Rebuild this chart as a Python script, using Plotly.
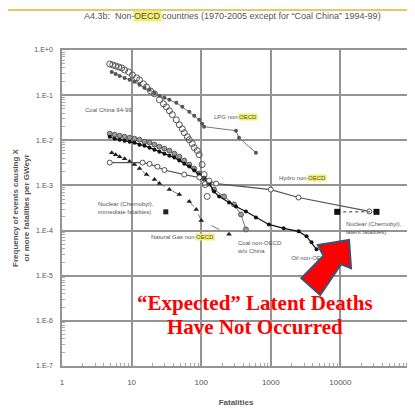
import plotly.graph_objects as go

# ---------------- data ----------------
x_ticks = [1, 10, 100, 1000, 10000, 100000]
x_tick_labels = ["1", "10", "100", "1000", "10000", "100000"]
y_ticks = [1, 1e-1, 1e-2, 1e-3, 1e-4, 1e-5, 1e-6, 1e-7]
y_tick_labels = ["1.E+0", "1.E-1", "1.E-2", "1.E-3", "1.E-4", "1.E-5", "1.E-6", "1.E-7"]

coal_china_x = [4.85, 5.35, 5.9, 6.52, 7.2, 7.94, 9.06, 10.3, 11.8, 13.0, 14.8, 16.4, 18.7, 21.3,
                25.1, 28.7, 31.6, 34.9, 38.5, 43.9, 48.5, 53.5, 57.2, 63.1, 67.4, 74.4, 79.4,
                87.7, 93.6, 103, 110, 114, 122]
coal_china_y = [0.49, 0.467, 0.444, 0.42, 0.40, 0.36, 0.327, 0.28, 0.241, 0.218, 0.178, 0.152,
                0.124, 0.107, 0.079, 0.064, 0.055, 0.045, 0.037, 0.0285, 0.022, 0.018, 0.0147,
                0.012, 0.0103, 0.0084, 0.0069, 0.00589, 0.0048, 0.0029, 0.00174, 0.00105, 0.00057]

lpg_x = [5.18, 5.9, 6.74, 7.94, 9.36, 11.0, 13.0, 15.3, 18.1, 21.3, 25.1, 29.6, 34.9, 43.9,
         53.5, 67.4, 79.4, 93.6, 103, 110, 316, 349, 611]
lpg_y = [0.327, 0.295, 0.267, 0.241, 0.218, 0.197, 0.169, 0.145, 0.131, 0.112, 0.0966, 0.0871,
         0.079, 0.0676, 0.055, 0.0428, 0.0349, 0.0285, 0.0232, 0.020, 0.0163, 0.0114, 0.0053]

coal_noecd_x = [4.85, 5.71, 6.74, 7.94, 9.36, 11.0, 13.0, 15.3, 18.1, 21.3, 25.1, 29.6, 34.9,
                41.1, 48.5, 57.2, 67.4, 79.4, 93.6, 110, 130, 153, 213, 296, 373, 439]
coal_noecd_y = [0.0140, 0.0133, 0.01264, 0.0120, 0.0114, 0.01084, 0.0103, 0.0093, 0.00885,
                0.0080, 0.00722, 0.00653, 0.00589, 0.00506, 0.00434, 0.00355, 0.00289, 0.00236,
                0.00183, 0.00142, 0.0011, 0.00081, 0.00057, 0.00038, 0.000228, 0.000106]

oil_x = [4.85, 5.71, 6.74, 7.94, 9.36, 11.0, 13.0, 15.3, 18.1, 21.3, 25.1, 29.6, 34.9, 41.1,
         48.5, 57.2, 67.4, 79.4, 93.6, 110, 130, 153, 181, 251, 316, 439, 611, 936, 1533,
         2512, 3266, 3852, 4540]
oil_y = [0.0120, 0.01084, 0.0103, 0.0098, 0.0093, 0.00885, 0.0080, 0.0076, 0.00687, 0.0062,
         0.0056, 0.00506, 0.00457, 0.00413, 0.00355, 0.00304, 0.00261, 0.00213, 0.00174,
         0.00142, 0.00110, 0.00073, 0.00057, 0.00042, 0.00034, 0.000265, 0.000196, 0.000137,
         0.000112, 0.000096, 0.0000744, 0.000055, 0.0000385]

gas_x = [5.18, 5.9, 6.74, 7.94, 9.36, 11.0, 13.0, 16.4, 21.3, 25.1, 34.9, 48.5, 67.4, 84.8, 100, 251]
gas_y = [0.0053, 0.0048, 0.00434, 0.00392, 0.00337, 0.00289, 0.00236, 0.00174, 0.00135, 0.0011,
         0.00081, 0.00063, 0.00044, 0.000294, 0.000168, 0.0000824]

hydro_x = [4.85, 14.4, 18.1, 23.5, 29.6, 57.0, 94.0, 130, 164, 1000, 2500, 26000]
hydro_y = [0.0032, 0.0032, 0.0030, 0.0026, 0.0022, 0.00174, 0.0015, 0.00128, 0.0011, 0.00081,
           0.00054, 0.000265]

nuc_immediate_x = [31]
nuc_immediate_y = [0.00026]
nuc_latent_x = [9000, 33000]
nuc_latent_y = [0.00026, 0.00026]

# ---------------- layout helpers ----------------
# the page body has an 8px margin, so the figure is drawn 8px right/down
OFF = 8
W, H = 407, 403
ML, MR, MT, MB = 54, 3, 42, 45
PW, PH = W - ML - MR, H - MT - MB


def pxx(px):
    return (px - OFF - ML) / PW


def pxy(py):
    return (OFF + H - MB - py) / PH


GREY_TXT = "#555555"
FONT = "Liberation Sans, Arial, sans-serif"
HIGHLIGHT = "#f2ef6e"

fig = go.Figure()

fig.add_trace(go.Scatter(x=coal_noecd_x, y=coal_noecd_y, mode="lines+markers",
                         line=dict(color="#777777", width=1),
                         marker=dict(symbol="circle", size=5, color="#9a9a9a",
                                     line=dict(color="#444444", width=0.8))))
fig.add_trace(go.Scatter(x=oil_x, y=oil_y, mode="lines+markers",
                         line=dict(color="#111111", width=1.2),
                         marker=dict(symbol="circle", size=4, color="#111111")))
fig.add_trace(go.Scatter(x=coal_china_x, y=coal_china_y, mode="markers",
                         marker=dict(symbol="circle-open", size=6, color="#555555",
                                     line=dict(width=1))))
fig.add_trace(go.Scatter(x=lpg_x, y=lpg_y, mode="lines+markers",
                         line=dict(color="#777777", width=1),
                         marker=dict(symbol="circle", size=4, color="#555555")))
fig.add_trace(go.Scatter(x=gas_x, y=gas_y, mode="lines+markers",
                         line=dict(color="#777777", width=1, dash="dash"),
                         marker=dict(symbol="triangle-up", size=5, color="#222222")))
fig.add_trace(go.Scatter(x=hydro_x, y=hydro_y, mode="lines+markers",
                         line=dict(color="#555555", width=1.2),
                         marker=dict(symbol="circle", size=5, color="white",
                                     line=dict(color="#555555", width=1))))
fig.add_trace(go.Scatter(x=nuc_immediate_x, y=nuc_immediate_y, mode="markers",
                         marker=dict(symbol="square", size=5, color="#222222")))
fig.add_trace(go.Scatter(x=nuc_latent_x, y=nuc_latent_y, mode="lines+markers",
                         line=dict(color="#333333", width=1, dash="dot"),
                         marker=dict(symbol="square", size=6, color="#111111")))
# Oil label as plot text so the arrow can cover it as in the picture
fig.add_trace(go.Scatter(x=[3700], y=[2.45e-5], mode="text", text=["Oil non-OECD"],
                         textfont=dict(size=6, color=GREY_TXT, family=FONT),
                         textposition="middle center", hoverinfo="skip"))

shapes = []
# gold rule on top
shapes.append(dict(type="line", xref="paper", yref="paper", x0=pxx(0), x1=pxx(415),
                   y0=pxy(10), y1=pxy(10), line=dict(color="#e8c66f", width=2)))
# red arrow
arrow_px = [(350.7, 240), (352.7, 268.3), (342.7, 264.3), (321.7, 295), (302.7, 278.3),
            (325, 255.7), (319.3, 245)]
path = "M " + " L ".join(f"{pxx(a):.4f},{pxy(b):.4f}" for a, b in arrow_px) + " Z"
shapes.append(dict(type="path", xref="paper", yref="paper", path=path, fillcolor="#ff0000",
                   line=dict(color="#3b5278", width=2), layer="above"))

annotations = []


def note(text, px, py, size=6, xanchor="center", color=GREY_TXT, family=FONT, align="center",
         bg=None, xshift=0):
    a = dict(text=text, x=pxx(px), y=pxy(py), xref="paper", yref="paper",
             showarrow=False, xanchor=xanchor, yanchor="middle", align=align,
             font=dict(size=size, color=color, family=family), borderpad=0, xshift=xshift)
    if bg:
        a["bgcolor"] = bg
    annotations.append(a)


def oecd_note(prefix, suffix, split_px, py, size=6):
    """text with a yellow-highlighted 'OECD' word starting at split_px"""
    w = size * 2.889  # width of 'OECD' in Arial metrics
    note(prefix, split_px, py, size=size, xanchor="right", xshift=3)
    note("OECD", split_px, py, size=size, xanchor="left", bg=HIGHLIGHT)
    if suffix:
        note(suffix, split_px + w, py, size=size, xanchor="left", xshift=3)


oecd_note("A4.3b:  Non-", "countries (1970-2005 except for \u201cCoal China\u201d 1994-99)",
          133, 16, size=9)
note("Coal China 94-99", 109, 110)
oecd_note("LPG non-", "", 239, 117)
oecd_note("Hydro non-", "", 308, 178)
note("Nuclear (Chernobyl),<br>immediate fatalities)", 97, 208, xanchor="left", align="left")
oecd_note("Natural Gas non-", "", 196, 237)
note("Coal non-OECD<br>w/o China", 237, 247, xanchor="left", align="left")
note("Nuclear (Chernobyl),<br>latent fatalities)", 347, 228, xanchor="left", align="left")
note("<b>\u201cExpected\u201d Latent Deaths</b>", 256, 303, size=21, color="#ff0000",
     family="Liberation Serif, Times New Roman, serif")
note("<b>Have Not Occurred</b>", 256, 327, size=21, color="#ff0000",
     family="Liberation Serif, Times New Roman, serif")

x_minor = [m * 10 ** e for e in range(0, 5) for m in range(2, 10)]
y_minor = [m * 10.0 ** e for e in range(-7, 0) for m in range(2, 10)]

fig.update_layout(
    width=W, height=H, margin=dict(l=ML, r=MR, t=MT, b=MB, pad=0),
    paper_bgcolor="white", plot_bgcolor="white", showlegend=False,
    font=dict(family=FONT, color=GREY_TXT),
    shapes=shapes, annotations=annotations,
)
fig.update_xaxes(type="log", range=[0, 5], tickmode="array", tickvals=x_ticks,
                 ticktext=x_tick_labels, showgrid=True, gridcolor="#949494", gridwidth=1.5,
                 showline=True, linecolor="#949494", linewidth=1.5, mirror=True, ticks="",
                 tickfont=dict(size=8, color=GREY_TXT), ticklabelstandoff=8,
                 minor=dict(ticks="inside", ticklen=3, tickcolor="#aaaaaa", showgrid=False,
                            tickmode="array", tickvals=x_minor),
                 title=dict(text="<b>Fatalities</b>", font=dict(size=8, color=GREY_TXT),
                            standoff=13))
fig.update_yaxes(type="log", range=[-7, 0], tickmode="array", tickvals=y_ticks,
                 ticktext=y_tick_labels, showgrid=True, gridcolor="#949494", gridwidth=1.5,
                 showline=True, linecolor="#949494", linewidth=1.5, mirror=True, ticks="",
                 tickfont=dict(size=7, color=GREY_TXT), ticklabelstandoff=6,
                 minor=dict(ticks="inside", ticklen=3, tickcolor="#aaaaaa", showgrid=False,
                            tickmode="array", tickvals=y_minor),
                 title=dict(text="<b>Frequency of events causing X<br>or more fatalities per GWeyr</b>",
                            font=dict(size=8, color=GREY_TXT), standoff=4))

fig.write_html("out.html")
